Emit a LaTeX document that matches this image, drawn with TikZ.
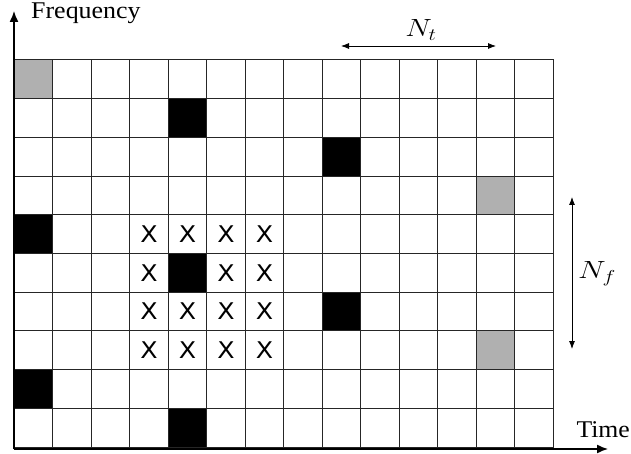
\documentclass[tikz,border=0pt]{standalone}
\usepackage{fontspec}
\setmainfont{Liberation Serif}
\newfontfamily\xfont{DejaVu Sans}
\usetikzlibrary{arrows.meta}
\newcommand{\hstretch}[2]{\scalebox{#1}[1]{#2}}
\begin{document}
\begin{tikzpicture}[x=1pt,y=-1pt,
  cell/.style={draw=black!85, line width=1pt, minimum width=38.47pt, minimum height=38.7pt, inner sep=0pt, outer sep=0pt},
  blk/.style={fill=black},
  gry/.style={fill=black!31},
  xmark/.style={font=\xfont\fontsize{23}{23}\selectfont, inner sep=0pt},
  axis/.style={line width=1.4pt, -{Latex[length=11pt,width=9pt]}},
  dim/.style={line width=0.8pt, {Latex[length=8pt,width=6pt]}-{Latex[length=8pt,width=6pt]}},
  lbl/.style={font=\fontsize{24}{24}\selectfont, inner sep=0pt},
  f0-0/.style={gry}, f1-4/.style={blk}, f2-8/.style={blk}, f3-12/.style={gry},
  f4-0/.style={blk}, f5-4/.style={blk}, f6-8/.style={blk}, f7-12/.style={gry},
  f8-0/.style={blk}, f9-4/.style={blk}]
\useasboundingbox (0,0) rectangle (631,454);
\fill[white] (0,0) rectangle (631,454);
\foreach \r in {0,...,9}{
  \foreach \c in {0,...,13}{
    \node[cell, f\r-\c/.try] (c\r-\c) at ({14.5+\c*38.47+19.235},{60+\r*38.7+19.35}) {};
  }
}
\foreach \r/\c in {4/3,4/4,4/5,4/6,5/3,5/5,5/6,6/3,6/4,6/5,6/6,7/3,7/4,7/5,7/6}{
  \node[xmark] (x\r-\c) at (c\r-\c) {\hstretch{1.1}{X}};
}
\coordinate (o) at (14,449);
\coordinate (ytip) at (14,11);
\coordinate (xtip) at (608,449);
\draw[axis] (o) -- (ytip);
\draw[axis] (o) -- (xtip);
\node[lbl, anchor=base west] (freq) at (31,18.5) {\hstretch{1.08}{Frequency}};
\node[lbl, anchor=base east] (time) at (630,437) {\hstretch{1.07}{Time}};
\coordinate (ntl) at (341,46);
\coordinate (ntr) at (496,46);
\draw[dim] (ntl) -- (ntr);
\node[font=\fontsize{25}{25}\selectfont, inner sep=0pt] (nt) at (421,30) {\hstretch{1.2}{$N_t$}};
\coordinate (nft) at (572,197);
\coordinate (nfb) at (572,349);
\draw[dim] (nft) -- (nfb);
\node[font=\fontsize{26}{26}\selectfont, inner sep=0pt] (nf) at (597,274) {\hstretch{1.25}{$N_f$}};
\end{tikzpicture}
\end{document}
